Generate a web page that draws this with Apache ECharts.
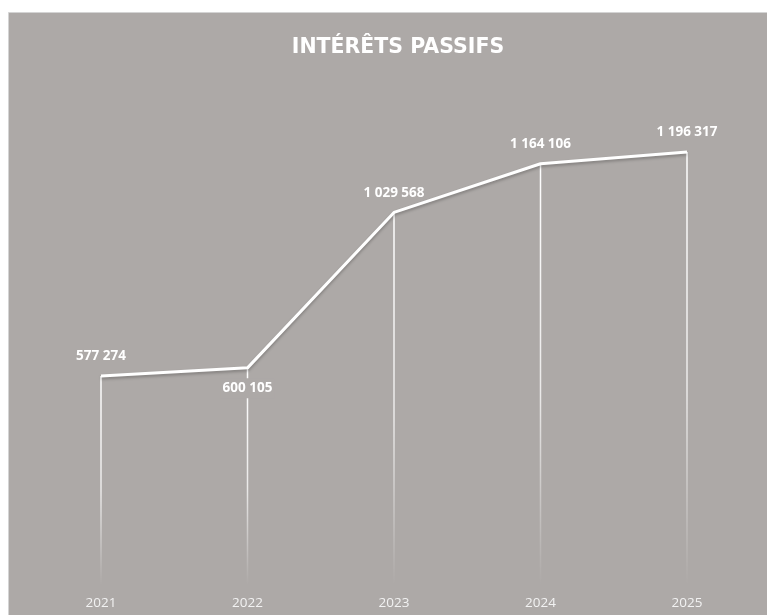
<!DOCTYPE html>
<html>
<head>
<meta charset="utf-8">
<script src="https://cdn.jsdelivr.net/npm/echarts@6/dist/echarts.min.js"></script>
<style>
html,body{margin:0;padding:0;background:#fff;}
#c{width:767px;height:615px;}
</style>
</head>
<body>
<div id="c"></div>
<script>
const title = "INTÉRÊTS PASSIFS";
const categories = ["2021", "2022", "2023", "2024", "2025"];
const values = [577274, 600105, 1029568, 1164106, 1196317];
const labelBelow = [false, true, false, false, false];

const BG = "#ADA9A7";
function fmt(v){ return String(v).replace(/\B(?=(\d{3})+(?!\d))/g, " "); }

const chart = echarts.init(document.getElementById('c'), null, {renderer:'canvas'});
chart.setOption({
  backgroundColor: '#ffffff',
  animation: false,
  graphic: [{
    type: 'rect', z: -10, silent: true,
    shape: {x: 8.5, y: 12.5, width: 770, height: 610},
    style: {fill: BG, stroke: '#d4d4d4', lineWidth: 1}
  }],
  title: {
    text: title,
    left: 393, top: 32, textAlign: 'center',
    textStyle: {color: '#ffffff', fontFamily: 'DejaVu Sans', fontWeight: 'bold', fontSize: 20.5}
  },
  grid: {left: 27.75, right: 6.75, top: 78.4, bottom: 30},
  xAxis: {
    type: 'category', data: categories, boundaryGap: true,
    axisLine: {show: false}, axisTick: {show: false}, splitLine: {show: false},
    axisLabel: {color: '#f2f2f2', fontFamily: 'Open Sans', fontSize: 13.5, margin: 11}
  },
  yAxis: {type: 'value', min: 0, max: 1400000, show: false, splitLine: {show: false}},
  series: [
    {
      type: 'bar', data: values, barWidth: 1.5, z: 1, silent: true,
      itemStyle: {
        color: new echarts.graphic.LinearGradient(0, 0, 0, 1, [
          {offset: 0, color: 'rgba(255,255,255,1)'},
          {offset: 0.55, color: 'rgba(255,255,255,0.75)'},
          {offset: 1, color: 'rgba(255,255,255,0)'}
        ])
      }
    },
    {
      type: 'line', z: 3,
      data: values.map((v, i) => ({
        value: v,
        label: labelBelow[i] ? {position: 'bottom', distance: 10, backgroundColor: BG, padding: [3, 2, 3, 2]} : {}
      })),
      symbol: 'circle', symbolSize: 1,
      itemStyle: {color: 'rgba(255,255,255,0)'},
      lineStyle: {color: '#ffffff', width: 3, shadowColor: 'rgba(0,0,0,0.25)', shadowBlur: 3, shadowOffsetY: 2},
      label: {
        show: true, position: 'top', distance: 12,
        color: '#ffffff', fontFamily: 'Open Sans', fontWeight: 'bold', fontSize: 13.5,
        formatter: p => fmt(p.value)
      }
    }
  ]
});
</script>
</body>
</html>
